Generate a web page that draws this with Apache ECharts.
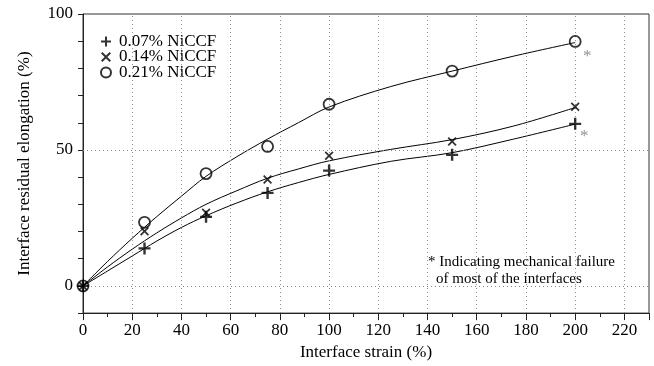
<!DOCTYPE html>
<html>
<head>
<meta charset="utf-8">
<script src="https://cdn.jsdelivr.net/npm/echarts@6/dist/echarts.min.js"></script>
<style>
html,body{margin:0;padding:0;background:#fff;}
#chart{width:654px;height:366px;}
</style>
</head>
<body>
<div id="chart"></div>
<script>
// Measured points
const strain = [0, 25, 50, 75, 100, 150, 200];
const elong007 = [0, 13.8, 25.4, 34.2, 42.4, 48.2, 59.6];
const elong014 = [0, 20.1, 26.9, 39.1, 47.9, 53.1, 65.9];
const elong021 = [0, 23.4, 41.3, 51.3, 66.8, 79.0, 89.9];

// Fitted curves
const fitStrain = [0, 10, 20, 30, 40, 50, 62.5, 75, 87.5, 100, 125, 150, 175, 200];
const fit007 = [0, 5.5, 11, 16.5, 21.5, 25.8, 30.5, 34.6, 38, 41, 45.8, 49, 54, 59.5];
const fit014 = [0, 7, 13.5, 19.5, 25, 30, 35, 39.6, 43, 46, 50.2, 53.8, 58.8, 65.6];
const fit021 = [0, 9, 17.5, 25.5, 33, 40.3, 47.5, 54, 60, 65.8, 73.3, 79, 84.5, 89.5];

// Series names
const seriesNames = ['0.07% NiCCF', '0.14% NiCCF', '0.21% NiCCF'];

// Points marked as mechanical failure (index into strain)
const failure007 = [6];
const failure021 = [6];

// Axis ticks / grid
const xGridValues = [20, 40, 60, 80, 100, 120, 140, 160, 180, 200, 220];
const yGridValues = [0, 50];
const yLabelValues = [0, 50, 100];

const noteLine1 = '* Indicating mechanical failure';
const noteLine2 = 'of most of the interfaces';

const FONT = 'Liberation Serif';
const plusPath = 'path://M4,0H6V4H10V6H6V10H4V6H0V4H4Z';
const crossPath = 'path://M0,1.4L1.4,0L5,3.6L8.6,0L10,1.4L6.4,5L10,8.6L8.6,10L5,6.4L1.4,10L0,8.6L3.6,5Z';

function pairs(xs, ys) { return xs.map((x, i) => [x, ys[i]]); }

const chart = echarts.init(document.getElementById('chart'), null, {renderer: 'canvas'});

const failureData = failure021.map(i => [strain[i], elong021[i]]).map(p => ({value: p, label: {offset: [12, 15]}}))
  .concat(failure007.map(i => [strain[i], elong007[i]]).map(p => ({value: p, label: {offset: [9, 13]}})));

const option = {
  animation: false,
  backgroundColor: '#fff',
  grid: {left: 83, right: 5, top: 14, bottom: 52, show: true, borderColor: '#333', borderWidth: 1, backgroundColor: 'transparent'},
  xAxis: [{
    type: 'value', min: 0, max: 230, interval: 10,
    name: 'Interface strain (%)', nameLocation: 'middle', nameGap: 28,
    nameTextStyle: {fontFamily: FONT, fontSize: 17, color: '#000'},
    axisLine: {onZero: false, lineStyle: {color: '#222', width: 1}},
    axisTick: {show: true, length: 4, inside: false, lineStyle: {color: '#222'}},
    axisLabel: {fontFamily: FONT, fontSize: 17, color: '#000', margin: 9,
      formatter: v => (v % 20 === 0 && v <= 220) ? String(v) : ''},
    splitLine: {show: false}
  }, {
    type: 'value', min: 0, max: 230, interval: 20, position: 'bottom', show: true,
    axisLine: {show: false, onZero: false},
    axisTick: {show: true, length: 7, lineStyle: {color: '#222'}},
    axisLabel: {show: false}, splitLine: {show: false}
  }],
  yAxis: {
    type: 'value', min: -10, max: 100, interval: 10,
    name: 'Interface residual elongation (%)', nameLocation: 'middle', nameGap: 50,
    nameTextStyle: {fontFamily: FONT, fontSize: 17, color: '#000'},
    axisLine: {show: true, onZero: false, lineStyle: {color: '#222', width: 1}},
    axisTick: {show: true, length: 5, lineStyle: {color: '#222'}},
    axisLabel: {fontFamily: FONT, fontSize: 17, color: '#000', margin: 10,
      formatter: v => yLabelValues.includes(v) ? String(v) : ''},
    splitLine: {show: false}
  },
  legend: {
    orient: 'vertical', left: 95, top: 28, itemGap: -1.5,
    itemWidth: 16, itemHeight: 10,
    data: seriesNames,
    textStyle: {fontFamily: FONT, fontSize: 17, color: '#000', lineHeight: 15}
  },
  series: [
    {
      name: 'fit007', type: 'line', data: pairs(fitStrain, fit007), smooth: 0.35, showSymbol: false,
      lineStyle: {color: '#000', width: 1}, z: 3, silent: true,
      markLine: {
        silent: true, symbol: 'none', label: {show: false}, animation: false,
        lineStyle: {color: '#888', type: [1, 3], width: 1},
        data: xGridValues.map(v => ({xAxis: v})).concat(yGridValues.map(v => ({yAxis: v})))
      }
    },
    {name: 'fit014', type: 'line', data: pairs(fitStrain, fit014), smooth: 0.35, showSymbol: false,
      lineStyle: {color: '#000', width: 1}, z: 3, silent: true},
    {name: 'fit021', type: 'line', data: pairs(fitStrain, fit021), smooth: 0.35, showSymbol: false,
      lineStyle: {color: '#000', width: 1}, z: 3, silent: true},
    {name: seriesNames[0], type: 'scatter', data: pairs(strain, elong007), symbol: plusPath, symbolSize: 12,
      itemStyle: {color: '#000'}, z: 5},
    {name: seriesNames[1], type: 'scatter', data: pairs(strain, elong014), symbol: crossPath, symbolSize: 9,
      itemStyle: {color: '#000'}, z: 5},
    {name: seriesNames[2], type: 'scatter', data: pairs(strain, elong021), symbol: 'circle', symbolSize: 11,
      itemStyle: {color: 'rgba(0,0,0,0)', borderColor: '#000', borderWidth: 1.8}, z: 5},
    {name: 'failure', type: 'scatter', data: failureData, symbolSize: 0, silent: true,
      label: {show: true, formatter: '*', position: 'inside', color: '#777', fontFamily: FONT, fontSize: 17}, z: 6}
  ],
  graphic: [{
    type: 'group', left: 423, top: 252, z: 100,
    children: [
      {type: 'rect', shape: {x: 0, y: 0, width: 205, height: 40}, style: {fill: '#fff'}},
      {type: 'text', x: 5, y: 3, style: {text: noteLine1, font: '15px "Liberation Serif"', fill: '#000'}},
      {type: 'text', x: 13, y: 20, style: {text: noteLine2, font: '15px "Liberation Serif"', fill: '#000'}}
    ]
  }]
};
chart.setOption(option);
</script>
</body>
</html>
